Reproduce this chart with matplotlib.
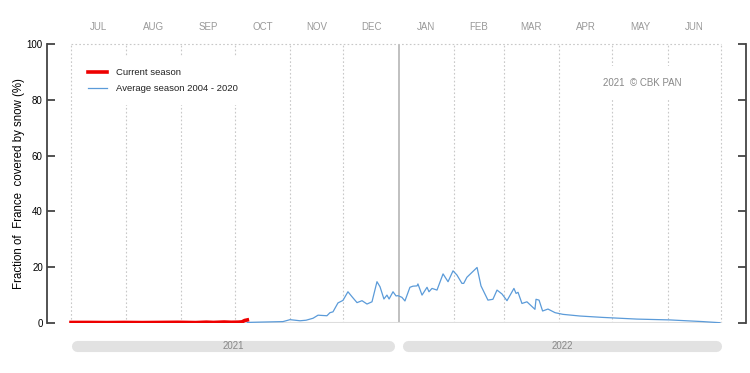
import matplotlib.pyplot as plt
import numpy as np

plt.rcParams['font.family'] = ['Liberation Sans', 'DejaVu Sans']

months = ['JUL', 'AUG', 'SEP', 'OCT', 'NOV', 'DEC', 'JAN', 'FEB', 'MAR', 'APR', 'MAY', 'JUN']
month_days = [31, 31, 30, 31, 30, 31, 31, 28, 31, 30, 31, 30]
years = ['2021', '2022']

# day of season (0 = 1 July) and snow cover (%)
cur_day = [0, 10, 20, 30, 40, 50, 60, 70, 76, 80, 86, 90, 94, 96, 97.5, 99]
cur_val = [0.2, 0.2, 0.15, 0.2, 0.15, 0.2, 0.25, 0.15, 0.3, 0.2, 0.35, 0.25, 0.3, 0.4, 0.9, 1.1]

avg_day = [99, 105, 112, 119, 123, 128.6, 132, 135.9, 138.7, 143.7, 145.4, 147.1, 149.9, 152.7,
           155.5, 157.8, 160.6, 163.4, 166.2, 169, 171.8, 173.5, 175.7, 177.4, 178.6, 180.8,
           182.5, 183.6, 185.8, 187.5, 190.3, 192, 194.3, 194.8, 197.1, 199.9, 201, 202.7,
           205.5, 208.9, 211.7, 214.5, 216.7, 219.5, 220.5, 222.3, 228, 230.2, 234.1, 236.9,
           239.2, 242, 244.8, 248.7, 249.9, 251, 253.2, 256, 260.5, 261.1, 262.8, 264.8,
           267.8, 271.8, 276.2, 285.8, 298.7, 317.8, 336.3, 354.8, 364.4]
avg_val = [0.2, 0.3, 0.4, 0.5, 1.2, 0.8, 1.0, 1.7, 2.8, 2.6, 3.7, 4.0, 7.2, 8.1,
           11.2, 9.4, 7.3, 8.0, 6.8, 7.6, 14.8, 13.0, 8.6, 10.0, 8.6, 11.2,
           9.7, 9.8, 9.2, 7.9, 12.8, 13.2, 13.3, 14.0, 10.0, 12.8, 11.2, 12.4,
           11.8, 17.6, 14.8, 18.7, 17.2, 14.2, 14.2, 16.4, 19.9, 13.3, 8.2, 8.5,
           11.8, 10.4, 8.0, 12.4, 10.6, 11.0, 7.0, 7.6, 4.9, 8.5, 8.2, 4.3,
           5.0, 3.7, 3.1, 2.5, 2.0, 1.4, 1.1, 0.5, 0.1]

px = 1 / 1.781  # days per pixel
fig = plt.figure(figsize=(7.5, 3.73), dpi=100)
ax = fig.add_axes([47 / 750, 1 - 323 / 373, 699 / 750, 279 / 373])
ax.set_xlim(-24 * px, 675 * px)
ax.set_ylim(0, 100)

edges = np.concatenate([[0], np.cumsum(month_days)])
gc = '#c8c8c8'
for e in edges:
    if e == 184:
        ax.plot([e, e], [0, 100], color='#bbbbbb', lw=1.3, zorder=1)
    else:
        ax.plot([e, e], [0, 100], color=gc, lw=0.8, ls=(0, (1.5, 2)), zorder=1)
ax.plot([0, 365], [100, 100], color=gc, lw=0.8, ls=(0, (1.5, 2)), zorder=1, clip_on=False)
ax.plot([0, 365], [0, 0], color='#dddddd', lw=1.5, zorder=1)

ax.plot(avg_day, avg_val, color='#5b9bd9', lw=0.9, zorder=3, label='Average season 2004 - 2020')
ax.plot(cur_day, cur_val, color='#ee0000', lw=2.6, zorder=4, label='Current season')

mids = (edges[:-1] + edges[1:]) / 2
for m, x in zip(months, mids):
    ax.text(x, 106.1, m, ha='center', va='center', fontsize=7, color='#999999')

ax.text(532 * px, 86.2, '2021  \u00a9 CBK PAN', ha='left', va='center', fontsize=7,
        color='#888888', bbox=dict(facecolor='white', edgecolor='none', pad=8), zorder=5)

h, l = ax.get_legend_handles_labels()
leg = ax.legend(h[::-1], l[::-1], loc='upper left', bbox_to_anchor=(29.7 / 699, 0.955),
                frameon=True, fontsize=6.8, handlelength=2.0, handletextpad=0.95,
                labelspacing=0.8, borderpad=1.2, borderaxespad=0)
leg.get_frame().set_edgecolor('none')
leg.get_frame().set_alpha(1)
leg.get_frame().set_boxstyle('square', pad=0)
for t in leg.get_texts():
    t.set_color('#222222')

# year bars below
for yr, a, b in [(years[0], 3.1, 178.8), (years[1], 189.5, 361.9)]:
    ax.plot([a, b], [-8.4, -8.4], color='#e2e2e2', lw=8, solid_capstyle='round', clip_on=False)
    ax.text((a + b) / 2, -8.4, yr, ha='center', va='center', fontsize=7, color='#888888')

for s in ['top', 'bottom']:
    ax.spines[s].set_visible(False)
for s in ['left', 'right']:
    ax.spines[s].set_color('#444444')
    ax.spines[s].set_linewidth(1.3)
ax.set_xticks([])
ax.set_yticks([0, 20, 40, 60, 80, 100])
ax.tick_params(axis='y', direction='in', length=6, width=1.3, color='#444444',
               labelsize=7, right=True, pad=3)
ax.set_ylabel('Fraction of  France  covered by snow (%)', fontsize=8.3)
ax.yaxis.set_label_coords(-22 / 699, 0.5)

fig.savefig('out.png', dpi=100, facecolor='white')
